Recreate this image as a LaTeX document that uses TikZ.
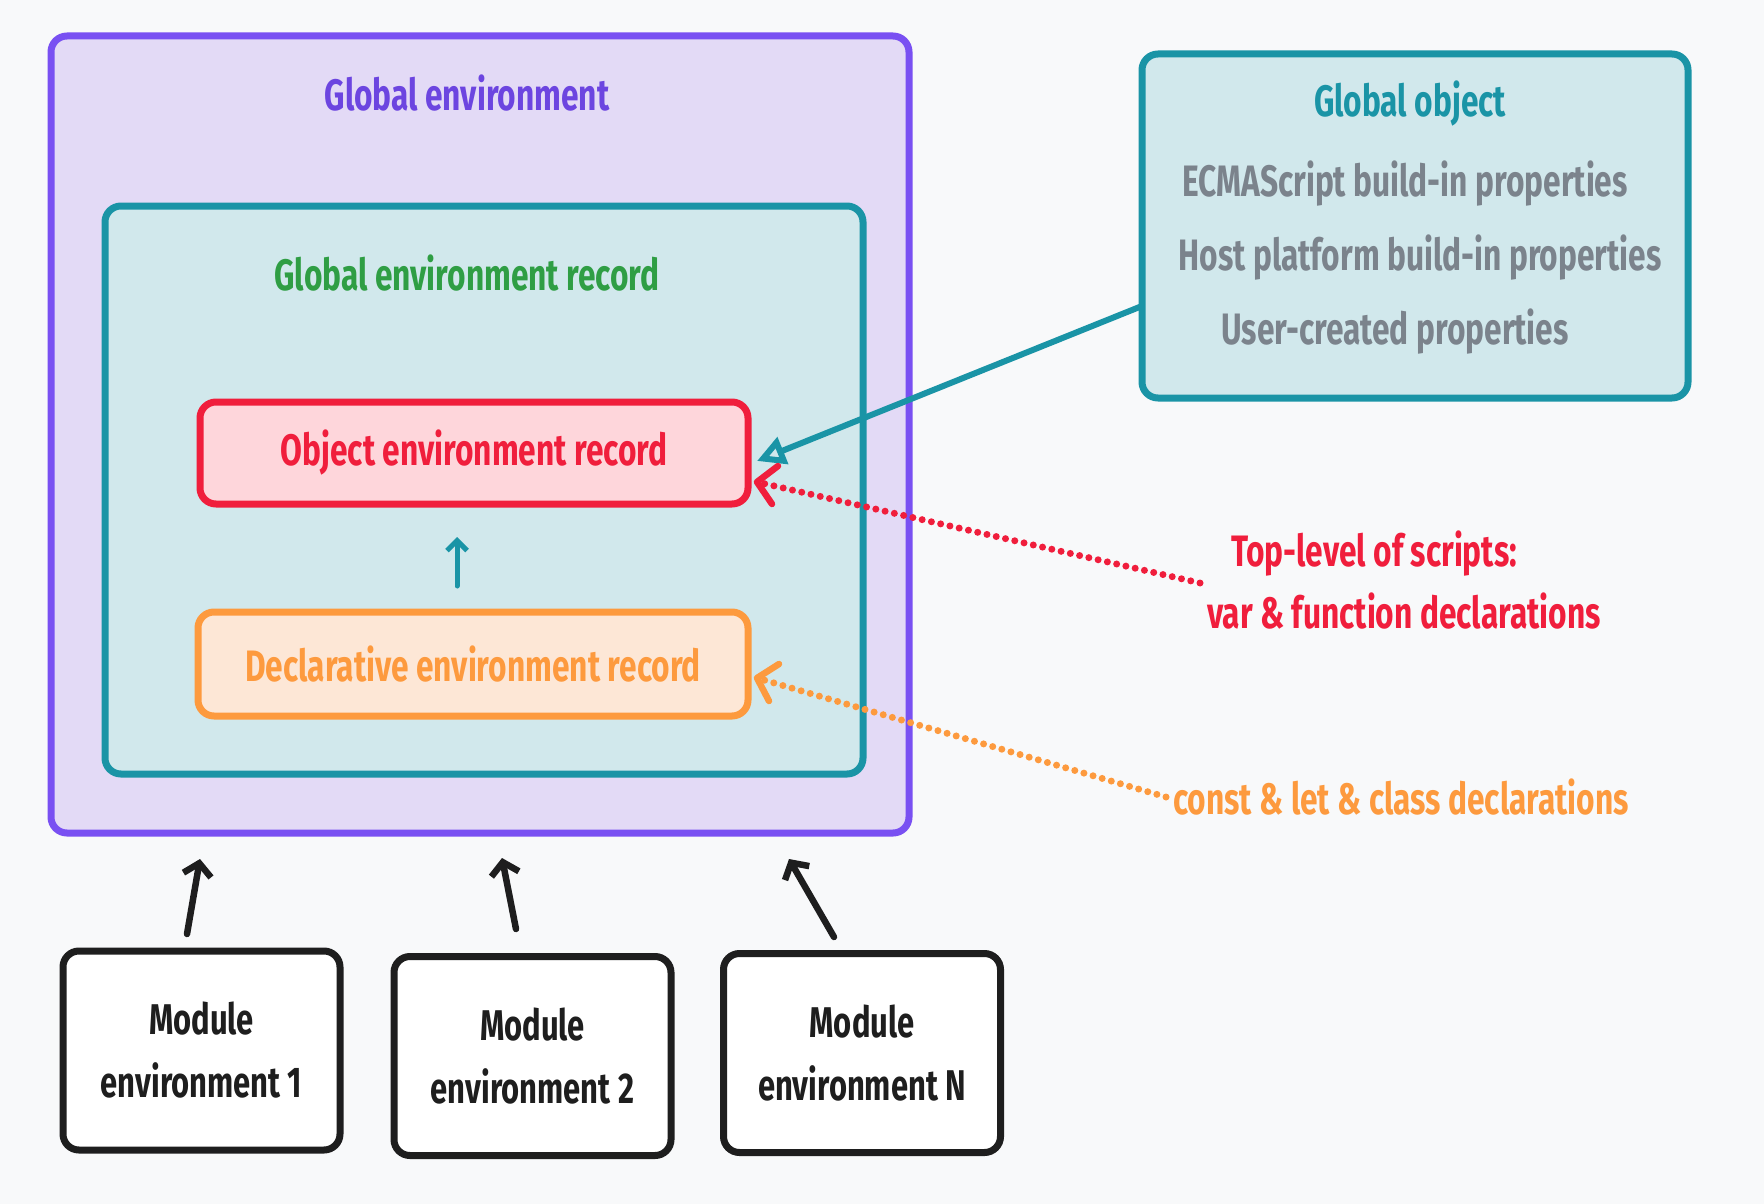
\documentclass[tikz,border=0pt]{standalone}
\usepackage{fontspec}
\setmainfont{Fira Sans}[FakeStretch=0.72]
\usetikzlibrary{arrows.meta,calc}
\definecolor{bgc}{HTML}{F8F9FA}
\definecolor{violetS}{HTML}{7950F2}
\definecolor{violetT}{HTML}{6C45E0}
\definecolor{violetF}{HTML}{E3DAF6}
\definecolor{tealS}{HTML}{1A94A6}
\definecolor{tealF}{HTML}{D1E8EC}
\definecolor{greenT}{HTML}{2F9E44}
\definecolor{redS}{HTML}{F01E3C}
\definecolor{redF}{HTML}{FED6DB}
\definecolor{orangeS}{HTML}{FD9A3E}
\definecolor{orangeF}{HTML}{FDE7D6}
\definecolor{grayT}{HTML}{7B838C}
\definecolor{blackS}{HTML}{1E1E1E}
\tikzset{
  box/.style={draw, line width=7pt, rounded corners=16pt},
  lbl/.style={font=\fontsize{44}{52}\selectfont\bfseries, inner sep=0pt, anchor=center},
  modbox/.style={box, draw=blackS, fill=white, minimum width=277pt, minimum height=199pt, align=center,
    font=\fontsize{43}{63}\selectfont\bfseries, text=blackS},
  dotline/.style={line width=7pt, line cap=round, dash pattern=on 0pt off 9.5pt},
  blackarrow/.style={blackS, line width=6.5pt, line cap=round, -{Straight Barb[length=12pt,width=28pt,line width=6.5pt]}},
}
\begin{document}
\begin{tikzpicture}[x=1pt,y=-1pt]
\useasboundingbox[fill=bgc] (0,0) rectangle (1764,1204);
% outer global environment
\node[box, draw=violetS, fill=violetF, minimum width=858pt, minimum height=797pt] (genv) at (480,434.5) {};
\node[lbl, text=violetT] (genvt) at (467,93) {Global environment};
% global environment record
\node[box, draw=tealS, fill=tealF, minimum width=758pt, minimum height=568pt] (gerec) at (484,490) {};
\node[lbl, text=greenT] (gerect) at (467,273) {Global environment record};
% object env record
\node[box, draw=redS, fill=redF, minimum width=548pt, minimum height=102pt, lbl, text=redS] (oer) at (474,453) {Object environment record};
% declarative env record
\node[box, draw=orangeS, fill=orangeF, minimum width=550pt, minimum height=104pt, lbl, text=orangeS] (der) at (473,664) {Declarative environment record};
% arrow der -> oer
\coordinate (a1s) at (457,586);
\coordinate (a1e) at (457,537);
\draw[tealS, line width=5pt, line cap=round, -{Straight Barb[length=10pt,width=20pt,line width=5pt]}] (a1s) -- (a1e);
% global object
\node[box, draw=tealS, fill=tealF, minimum width=546pt, minimum height=344pt] (gobj) at (1415,226) {};
\node[lbl, text=tealS] (gobjt) at (1410,104) {Global object};
\node[lbl, text=grayT] (p1) at (1405,184) {ECMAScript build-in properties};
\node[lbl, text=grayT] (p2) at (1420,258) {Host platform build-in properties};
\node[lbl, text=grayT] (p3) at (1395,332) {User-created properties};
% arrow global object -> oer
\coordinate (gA) at (1142,306);
\coordinate (oA) at (757,461);
\draw[tealS, line width=6pt, -{Triangle[open,length=28pt,width=28pt,line width=6pt]}] (gA) -- (oA);
% red annotation
\node[lbl, text=redS] (rt1) at (1374,554) {Top-level of scripts:};
\node[lbl, text=redS] (rt2) at (1404,611) {var \& function declarations};
\coordinate (rS) at (1200,583);
\coordinate (rE) at (757,482);
\draw[redS, dotline] (rS) -- (rE);
\draw[redS, line width=6.5pt, line cap=round, line join=round] ($(rE)+(21,-16)$) -- (rE) -- ($(rE)+(15,22)$);
% orange annotation
\node[lbl, text=orangeS] (ot) at (1401,797) {const \& let \& class declarations};
\coordinate (oS) at (1166,797);
\coordinate (oE) at (757,678);
\draw[orangeS, dotline] (oS) -- (oE);
\draw[orangeS, line width=6.5pt, line cap=round, line join=round] ($(oE)+(22,-14)$) -- (oE) -- ($(oE)+(12,23)$);
% modules
\node[modbox] (m1) at (201.5,1050.5) {Module\\environment 1};
\node[modbox] (m2) at (532.5,1056) {Module\\environment 2};
\node[modbox] (m3) at (862,1053) {Module\\environment N};
\coordinate (m1a) at (187,934); \coordinate (g1) at (200,859);
\coordinate (m2a) at (516,929); \coordinate (g2) at (502,858);
\coordinate (m3a) at (834,937); \coordinate (g3) at (789,859);
\draw[blackarrow] (m1a) -- (g1);
\draw[blackarrow] (m2a) -- (g2);
\draw[blackarrow] (m3a) -- (g3);
\end{tikzpicture}
\end{document}
